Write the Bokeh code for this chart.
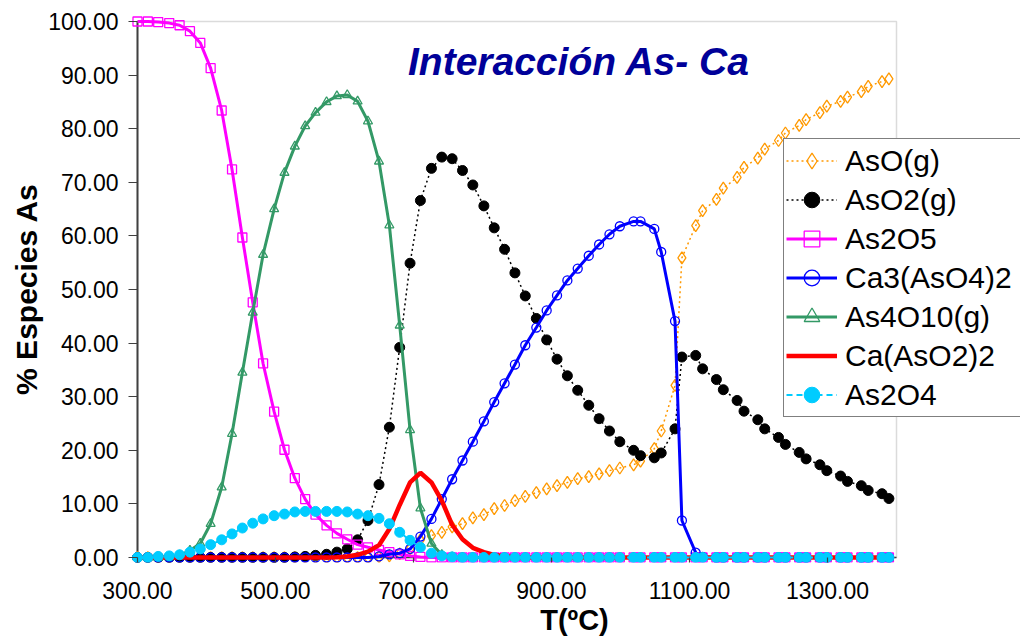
from bokeh.plotting import figure
from bokeh.models import (Legend, LegendItem, Label, NumeralTickFormatter, FixedTicker,
                          Range1d, ColumnDataSource, BoxAnnotation)
from bokeh.embed import file_html
from bokeh.resources import INLINE

# Temperature (ºC)
T = [300, 315, 330, 346, 361, 376, 391, 406, 422, 437, 452, 467, 482, 498, 513, 528,
     543, 558, 574, 589, 604, 619, 634, 650, 665, 680, 695, 710, 726, 741, 756, 771,
     786, 802, 817, 832, 847, 862, 878, 893, 908, 923, 938, 954, 969, 984, 999,
     1019, 1029, 1049, 1059, 1079, 1089, 1109, 1119, 1139, 1149, 1169, 1179, 1199,
     1209, 1229, 1239, 1259, 1269, 1289, 1299, 1319, 1329, 1349, 1359, 1379, 1389]

aso_g = [0]*23 + [0.1, 0.3, 0.7, 1.6, 3.3, 4.1, 4.7, 5.7, 6.3, 7.4, 8.0, 9.1, 9.7, 10.6,
         11.4, 12.1, 12.8, 13.4, 14.0, 14.7, 15.1, 15.6, 16.2, 16.7,
         17.3, 18.0, 20.3, 23.6, 32.1, 55.9, 61.9, 64.7, 66.8, 68.9, 70.9, 72.8, 74.5,
         76.2, 77.8, 79.2, 80.6, 81.7, 83.0, 84.2, 85.1, 85.9, 86.9, 87.9, 88.8, 89.3]

aso2_g = [0]*15 + [0.1, 0.2, 0.4, 0.6, 1.0, 1.6, 3.3, 6.9, 13.6, 24.3, 39.2, 54.9, 66.6,
          72.6, 74.7, 74.4, 72.2, 69.5, 65.6, 61.5, 57.5, 53.1, 48.8, 44.6, 40.6, 37.0,
          33.9, 31.2, 28.4, 25.9, 23.6, 21.6,
          20.0, 19.0, 18.6, 19.5, 24.0, 37.4, 37.7, 35.2, 33.2, 31.3, 29.3, 27.3, 25.7,
          24.0, 22.4, 21.1, 19.6, 18.4, 17.3, 16.2, 15.2, 14.2, 13.4, 12.5, 11.9, 11.0]

as2o5 = [100, 100, 99.9, 99.7, 99.3, 98.2, 96.0, 91.3, 83.4, 72.4, 59.7, 47.6, 36.2,
         27.2, 20.1, 14.8, 10.9, 8.0, 6.0, 4.5, 3.4, 2.4, 1.9, 1.4, 1.0, 0.6, 0.3, 0.1] + [0]*45

ca3aso42 = [0]*23 + [0.2, 0.6, 0.8, 1.6, 3.9, 7.2, 10.9, 14.6, 18.1, 21.6, 25.4, 29.0,
            32.5, 36.0, 39.6, 42.9, 46.1, 48.9, 51.7, 53.9, 56.3, 58.4, 60.3, 61.8,
            62.7, 62.7, 61.3, 57.0, 44.1, 6.9, 0.9, 0.1] + [0]*18

as4o10_g = [0, 0, 0, 0.1, 0.4, 1.3, 2.6, 6.3, 13.1, 23.1, 34.5, 45.7, 56.5, 65.0, 71.8,
            76.7, 80.5, 83.0, 85.0, 86.1, 86.3, 85.1, 81.4, 73.9, 62.0, 43.3, 23.8, 9.2,
            2.6, 0.5, 0.1] + [0]*42

caaso22 = [0]*19 + [0.05, 0.2, 0.5, 1.1, 2.3, 5.3, 9.8, 14.0, 15.8, 14.0, 10.6, 6.1, 3.4,
           1.8, 1.0, 0.5, 0.2, 0.1] + [0]*36

as2o4 = [0, 0, 0.2, 0.3, 0.5, 1.0, 1.6, 2.4, 3.3, 4.4, 5.5, 6.4, 7.2, 7.8, 8.1, 8.5, 8.6,
         8.6, 8.6, 8.6, 8.5, 8.1, 7.8, 7.3, 6.3, 4.7, 3.2, 1.9, 0.8, 0.3, 0.1] + [0]*42

x_ticks = [300, 500, 700, 900, 1100, 1300]
y_ticks = [0, 10, 20, 30, 40, 50, 60, 70, 80, 90, 100]
X_MIN, X_MAX = 300, 1400
Y_MIN, Y_MAX = 0, 100

FONT = "Liberation Sans"
AXIS_DARK = "#404040"

# plot area: 759 x 536 px, its top-left corner at (137, 21) px
PX_X = 759 / (X_MAX - X_MIN)
PX_Y = 536 / (Y_MAX - Y_MIN)
PAD_L, PAD_B, PAD_T = 9, 5, 6            # margins so edge markers are not clipped
FRAME_LEFT = 137 - PAD_L
FRAME_TOP = 21 - PAD_T
FRAME_W = 1020 - FRAME_LEFT              # frame reaches right edge (legend overhangs)
FRAME_H = 536 + PAD_B + PAD_T
FRAME_BOTTOM = FRAME_TOP + FRAME_H

x0 = X_MIN - PAD_L / PX_X
x1 = x0 + FRAME_W / PX_X
y0 = Y_MIN - PAD_B / PX_Y
y1 = Y_MAX + PAD_T / PX_Y

p = figure(frame_width=FRAME_W, frame_height=FRAME_H,
           x_range=Range1d(x0, x1), y_range=Range1d(y0, y1),
           output_backend="svg", toolbar_location=None,
           min_border_left=FRAME_LEFT, min_border_top=FRAME_TOP,
           min_border_right=0, min_border_bottom=60)
p.xgrid.visible = False
p.ygrid.visible = False
p.outline_line_color = None
p.background_fill_color = "white"
p.border_fill_color = "white"

p.xaxis.ticker = FixedTicker(ticks=x_ticks)
p.yaxis.ticker = FixedTicker(ticks=y_ticks)
p.xaxis.formatter = NumeralTickFormatter(format="0.00")
p.yaxis.formatter = NumeralTickFormatter(format="0.00")
for ax in (p.xaxis[0], p.yaxis[0]):
    ax.minor_tick_line_color = None
    ax.major_tick_out = 0
    ax.axis_line_color = None
    ax.major_tick_line_color = AXIS_DARK
    ax.major_tick_line_width = 1.2
    ax.major_label_text_font = FONT
    ax.major_label_text_font_size = "23px"
    ax.major_label_text_color = "black"
    ax.axis_label_text_font = FONT
    ax.axis_label_text_font_style = "bold"
    ax.axis_label_text_color = "black"
# ticks reach from the frame edge to the value-0 / T=300 axis lines
p.xaxis.major_tick_in = PAD_B
p.yaxis.major_tick_in = PAD_L
p.xaxis.axis_label_text_font_size = "29px"
p.yaxis.axis_label_text_font_size = "30px"
p.xaxis.major_label_standoff = 19
p.yaxis.major_label_standoff = 10
p.xaxis.axis_label = "T(ºC)"
p.yaxis.axis_label = "% Especies As"
p.xaxis.axis_label_standoff = 2
p.yaxis.axis_label_standoff = 2

# plot-area border and axis lines on the data bounds
p.add_layout(BoxAnnotation(left=X_MIN, right=X_MAX, bottom=Y_MIN, top=Y_MAX,
                           fill_color=None, fill_alpha=0, line_color="#888888",
                           line_width=1.5, level="underlay"))
p.add_layout(BoxAnnotation(left=X_MIN - 1.0 / PX_X, right=X_MIN + 1.0 / PX_X,
                           bottom=Y_MIN, top=Y_MAX, fill_color=AXIS_DARK, fill_alpha=1,
                           line_color=None, level="underlay"))
p.add_layout(BoxAnnotation(left=X_MIN, right=X_MAX, bottom=Y_MIN - 0.8 / PX_Y,
                           top=Y_MIN + 0.8 / PX_Y, fill_color=AXIS_DARK, fill_alpha=1,
                           line_color=None, level="underlay"))

src = ColumnDataSource(dict(T=T, aso=aso_g, aso2=aso2_g, as2o5=as2o5, ca3=ca3aso42,
                            as4o10=as4o10_g, caaso2=caaso22, as2o4=as2o4))

items = []

l = p.line("T", "aso", source=src, line_color="#FF9900", line_width=1.5, line_dash="2 3")
m = p.scatter("T", "aso", source=src, marker="diamond", size=12, fill_color=None,
              line_color="#FF9900", line_width=1.3)
items.append(LegendItem(label="AsO(g)", renderers=[l, m]))

l = p.line("T", "aso2", source=src, line_color="black", line_width=1.5, line_dash="2 3")
m = p.scatter("T", "aso2", source=src, marker="circle", size=10, fill_color="black",
              line_color="black")
items.append(LegendItem(label="AsO2(g)", renderers=[l, m]))

l = p.line("T", "as2o5", source=src, line_color="#FF00FF", line_width=3)
m = p.scatter("T", "as2o5", source=src, marker="square", size=9, fill_color=None,
              line_color="#FF00FF", line_width=1.3)
items.append(LegendItem(label="As2O5", renderers=[l, m]))

l = p.line("T", "ca3", source=src, line_color="#0000FF", line_width=3)
m = p.scatter("T", "ca3", source=src, marker="circle", size=9, fill_color=None,
              line_color="#0000FF", line_width=1.3)
items.append(LegendItem(label="Ca3(AsO4)2", renderers=[l, m]))

l = p.line("T", "as4o10", source=src, line_color="#339966", line_width=3)
m = p.scatter("T", "as4o10", source=src, marker="triangle", size=9, fill_color=None,
              line_color="#339966", line_width=1.3)
items.append(LegendItem(label="As4O10(g)", renderers=[l, m]))

l = p.line("T", "caaso2", source=src, line_color="#FF0000", line_width=4.5)
items.append(LegendItem(label="Ca(AsO2)2", renderers=[l]))

l = p.line("T", "as2o4", source=src, line_color="#00CCFF", line_width=2, line_dash="6 4")
m = p.scatter("T", "as2o4", source=src, marker="circle", size=10, fill_color="#00CCFF",
              line_color="#00CCFF")
items.append(LegendItem(label="As2O4", renderers=[l, m]))

# legend box: left edge at x=783 px, top at y=140 px; it runs past the right edge
LEG_H = 2 * 2 + 7 * 39
legend = Legend(items=items, location=(783 - FRAME_LEFT, FRAME_BOTTOM - (140 + LEG_H)),
                margin=0, padding=2, spacing=0,
                label_text_font=FONT, label_text_font_size="30px", label_text_color="black",
                glyph_width=51, glyph_height=39, label_height=39, label_standoff=8,
                label_width=210,
                border_line_color="black", border_line_width=1,
                background_fill_color="white", background_fill_alpha=1.0)
p.add_layout(legend, "center")

title = Label(x=692, y=92.5, text="Interacción As- Ca", text_font=FONT,
              text_font_style="bold italic", text_font_size="39px",
              text_color="#000099", text_align="left", text_baseline="alphabetic")
p.add_layout(title)

open("out.html", "w").write(file_html(p, INLINE))
